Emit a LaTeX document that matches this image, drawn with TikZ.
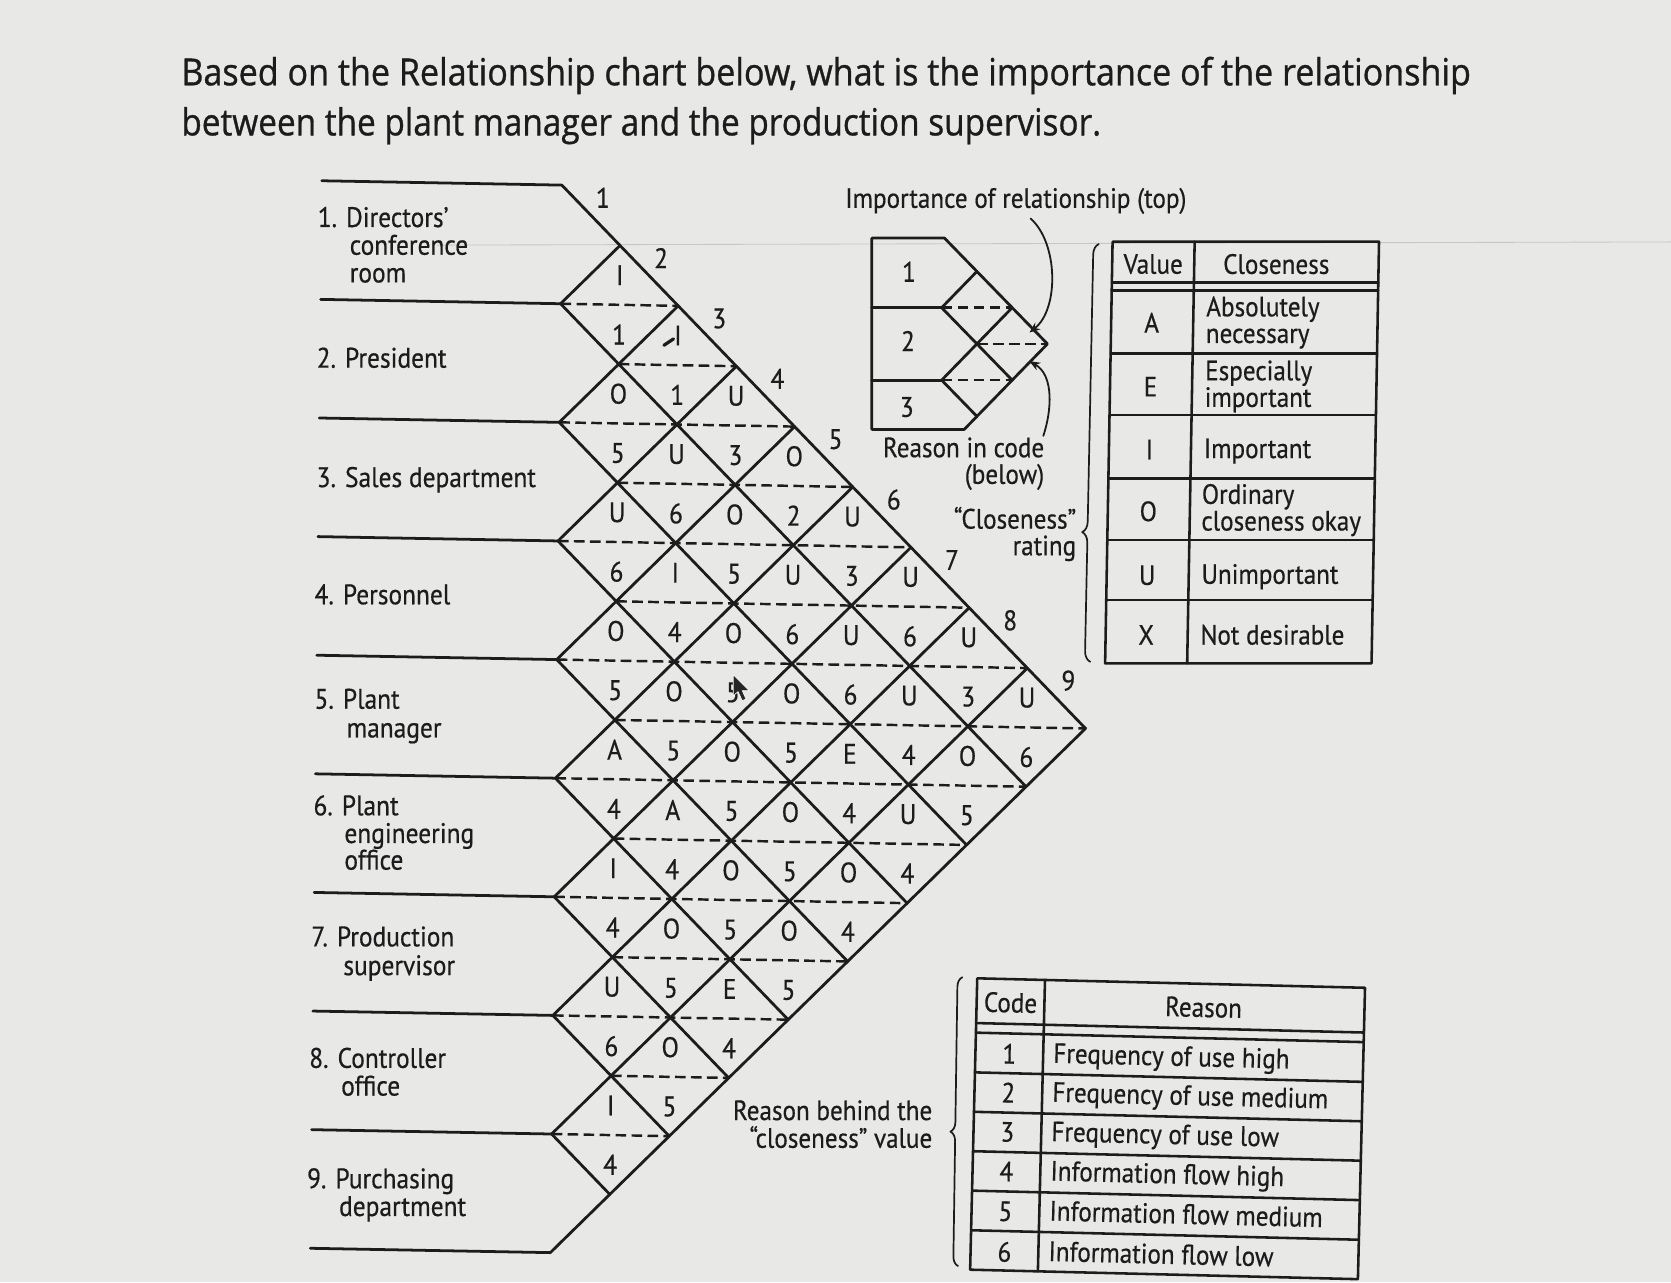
\documentclass[tikz,border=0pt]{standalone}
\usepackage{fontspec}
\setmainfont{PT Sans}[FakeStretch=0.9,FakeBold=0.5]
\newfontfamily\titlefont{Open Sans}[FakeBold=0.9]
\usetikzlibrary{arrows.meta,decorations.pathreplacing}
\definecolor{paper}{RGB}{232,232,230}
\definecolor{ink}{RGB}{28,28,28}
\newlength\fitlen
\newcommand\fitw[2]{\settowidth{\fitlen}{#2}\pgfmathsetmacro\fitr{#1/\fitlen}\scalebox{\fitr}[1]{#2}}
\begin{document}
\begin{tikzpicture}[x=1pt,y=-1pt,line join=round,line cap=round,
  gl/.style={draw=ink,line width=2.6pt},
  dl/.style={draw=ink,line width=2.3pt,line cap=butt,dash pattern=on 10pt off 5pt},
  tl/.style={draw=ink,line width=2.4pt},
  lbl/.style={font=\fontsize{26.5}{30}\selectfont,text=ink,inner sep=0pt},
  cell/.style={font=\fontsize{26.5}{30}\selectfont,text=ink,inner sep=0pt},
  tbl/.style={font=\fontsize{26.2}{30}\selectfont,text=ink,inner sep=0pt},
  ttl/.style={font=\titlefont\fontsize{35}{42}\selectfont,text=ink,inner sep=0pt,anchor=base west},
  brc/.style={draw=ink,line width=1.6pt,decorate},
  arr/.style={draw=ink,line width=1.7pt,-{Stealth[length=10pt,width=8pt]}}]

\useasboundingbox (0,0) rectangle (1568,1203);
\fill[paper] (0,0) rectangle (1568,1203);
% faint line of the photo
\draw[black!22,line width=0.8pt] (410,230) -- (1568,227);

% title
\node[ttl] (q1) at (170,80) {\fitw{1210}{Based on the Relationship chart below, what is the importance of the relationship}};
\node[ttl] (q2) at (170,127) {\fitw{863}{between the plant manager and the production supervisor.}};

% left labels
\node[lbl,anchor=base west] (l1a) at (298,213) {1. Directors'};
\node[lbl,anchor=base west] (l1b) at (328,239) {conference};
\node[lbl,anchor=base west] (l1c) at (328,265) {room};
\node[lbl,anchor=base west] (l2a) at (297,345) {2. President};
\node[lbl,anchor=base west] (l3a) at (297,457) {3. Sales department};
\node[lbl,anchor=base west] (l4a) at (295,567) {4. Personnel};
\node[lbl,anchor=base west] (l5a) at (295,665) {5. Plant};
\node[lbl,anchor=base west] (l5b) at (325,692) {manager};
\node[lbl,anchor=base west] (l6a) at (294,765) {6. Plant};
\node[lbl,anchor=base west] (l6b) at (323,791) {engineering};
\node[lbl,anchor=base west] (l6c) at (323,816) {office};
\node[lbl,anchor=base west] (l7a) at (292,888) {7. Production};
\node[lbl,anchor=base west] (l7b) at (322,915) {supervisor};
\node[lbl,anchor=base west] (l8a) at (290,1002) {8. Controller};
\node[lbl,anchor=base west] (l8b) at (320,1028) {office};
\node[lbl,anchor=base west] (l9a) at (288,1115) {9. Purchasing};
\node[lbl,anchor=base west] (l9b) at (318,1141) {department};

% relationship chart grid
\begin{scope}[shift={(526pt,-285pt)},x={(55.2pt,-1.0pt)},y={(-0.6pt,-55.65pt)}]
  \foreach \k in {0,...,9} \draw[gl] (-4.08,2*\k-2) -- (0,2*\k-2);
  \foreach \m in {0,...,8} \draw[gl] (0,2*\m) -- (\m+1,\m-1);
  \foreach \k in {0,...,8} \draw[gl] (0,2*\k-2) -- (9-\k,7+\k);
  \foreach \v in {0,...,14} {
    \pgfmathsetmacro\ul{mod(\v,2)}
    \pgfmathsetmacro\ur{min(\v+2,16-\v)}
    \draw[dl] (\ul,\v) -- (\ur,\v);
  }
  \foreach \i/\j/\t/\b in {1/2/I/1,1/3/I/1,1/4/U/3,1/5/O/2,1/6/U/3,1/7/U/6,1/8/U/3,1/9/U/6,
      2/3/O/5,2/4/U/6,2/5/O/5,2/6/U/6,2/7/U/6,2/8/U/4,2/9/O/5,
      3/4/U/6,3/5/I/4,3/6/O/5,3/7/O/5,3/8/E/4,3/9/U/4,
      4/5/O/5,4/6/O/5,4/7/O/5,4/8/O/5,4/9/O/4,
      5/6/A/4,5/7/A/4,5/8/O/5,5/9/O/5,
      6/7/I/4,6/8/O/5,6/9/E/4,
      7/8/U/6,7/9/O/5,8/9/I/4}
  {\node[cell] (t\i\j) at (\j-\i,\i+\j-3.5) {\t};
   \node[cell] (b\i\j) at (\j-\i,\i+\j-2.5) {\b};}
  \foreach \k in {1,...,9} \node[cell] (c\k) at (\k-0.3,\k-2.8) {\k};
\end{scope}
% pen mark and cursor of the photo
\draw[ink,line width=3pt] (623,324) -- (632,318);
\fill[black!85,draw=white,line width=0.6pt] (688,633) -- (688,653) -- (692.5,649) -- (696.5,657.5) -- (700,656) -- (696.5,648) -- (703,648) -- cycle;

% legend diagram
\begin{scope}[shift={(883.6pt,-288.7pt)},x={(33.1pt,0pt)},y={(0pt,-34pt)}]
  \draw[gl] (-1.98,-1.92) -- (0.08,-1.92) -- (3,1) -- (0.64,3.36) -- (-1.98,3.36) -- cycle;
  \draw[gl] (-1.98,0) -- (0,0);
  \draw[gl] (-1.98,2) -- (0,2);
  \draw[gl] (0,0) -- (1,-1);
  \draw[gl] (0,2) -- (2,0);
  \draw[gl] (0,0) -- (2,2);
  \draw[gl] (0,2) -- (1,3);
  \draw[dl] (0,0) -- (2,0);
  \draw[dl] (1,1) -- (3,1);
  \draw[dl] (0,2) -- (2,2);
\end{scope}
\node[cell] (g1) at (853,255) {1};
\node[cell] (g2) at (852,320) {2};
\node[cell] (g3) at (851,382) {3};

\node[tbl,anchor=base west] (imp) at (793,195) {Importance of relationship (top)};
\node[tbl,anchor=base east] (rc1) at (980,429) {Reason in code};
\node[tbl,anchor=base east] (rc2) at (980,454) {(below)};
\node[tbl,anchor=base east] (cr1) at (1010,496) {“Closeness”};
\node[tbl,anchor=base east] (cr2) at (1010,521) {rating};
\node[tbl,anchor=base east] (rb1) at (875,1051) {Reason behind the};
\node[tbl,anchor=base east] (rb2) at (875,1077) {“closeness” value};

\coordinate (a1s) at (967,205);
\coordinate (a1e) at (966,312);
\coordinate (a2s) at (979,409);
\coordinate (a2e) at (966,339);
\draw[arr] (a1s) .. controls (993,228) and (994,290) .. (a1e);
\draw[arr] (a2s) .. controls (987,385) and (989,352) .. (a2e);

% braces
\coordinate (b1s) at (1023,621);
\coordinate (b1e) at (1031,229);
\draw[brc,decoration={brace,amplitude=10pt,aspect=0.31}] (b1s) -- (b1e);
\coordinate (b2s) at (899,1188);
\coordinate (b2e) at (903,917);
\draw[brc,decoration={brace,amplitude=9pt,aspect=0.465}] (b2s) -- (b2e);

% closeness table
\begin{scope}[shift={(1044pt,-226.8pt)},xslant=0.0177]
  \draw[tl] (0,0) rectangle (250,395.6);
  \draw[tl] (77,0) -- (77,395.6);
  \foreach \y in {38.4,46,104.7,162.6,222,279.9,336.2} \draw[tl] (0,\y) -- (250,\y);
  \node[tbl] (hv) at (38.5,21) {Value};
  \node[tbl] (hc) at (154,21) {Closeness};
  \node[tbl] (va) at (38,76) {A};
  \node[tbl] (ve) at (38,136) {E};
  \node[tbl] (vi) at (38,195) {I};
  \node[tbl] (vo) at (38,253) {O};
  \node[tbl] (vu) at (38,313) {U};
  \node[tbl] (vx) at (38,369) {X};
  \node[tbl,anchor=base west] (da1) at (89,70) {Absolutely};
  \node[tbl,anchor=base west] (da2) at (89,95) {necessary};
  \node[tbl,anchor=base west] (de1) at (89,130) {Especially};
  \node[tbl,anchor=base west] (de2) at (89,155) {important};
  \node[tbl,anchor=base west] (di1) at (89,203) {Important};
  \node[tbl,anchor=base west] (do1) at (88,246) {Ordinary};
  \node[tbl,anchor=base west] (do2) at (88,271) {closeness okay};
  \node[tbl,anchor=base west] (du1) at (89,321) {Unimportant};
  \node[tbl,anchor=base west] (dx1) at (89,378) {Not desirable};
\end{scope}

% reason table
\begin{scope}[shift={(917pt,-918pt)},rotate=-1.4]
  \draw[tl] (0,0) rectangle (364,273.5);
  \draw[tl] (63.6,0) -- (63.6,273.5);
  \foreach \y in {42,51,88.3,125.3,162.3,199.3,236.5} \draw[tl] (0,\y) -- (364,\y);
  \node[tbl,transform shape] (hcode) at (31.8,22) {Code};
  \node[tbl,transform shape] (hreas) at (213,22) {Reason};
  \foreach \n/\yc/\yb/\txt in {1/70/77.5/Frequency of use high,2/106.5/114/Frequency of use medium,
      3/143.5/151/Frequency of use low,4/180.5/188/Information flow high,
      5/218/225.5/Information flow medium,6/256/263.5/Information flow low}
  {\node[tbl,transform shape] (cd\n) at (31.8,\yc) {\n};
   \node[tbl,transform shape,anchor=base west] (rs\n) at (73,\yb) {\txt};}
\end{scope}
\end{tikzpicture}
\end{document}
